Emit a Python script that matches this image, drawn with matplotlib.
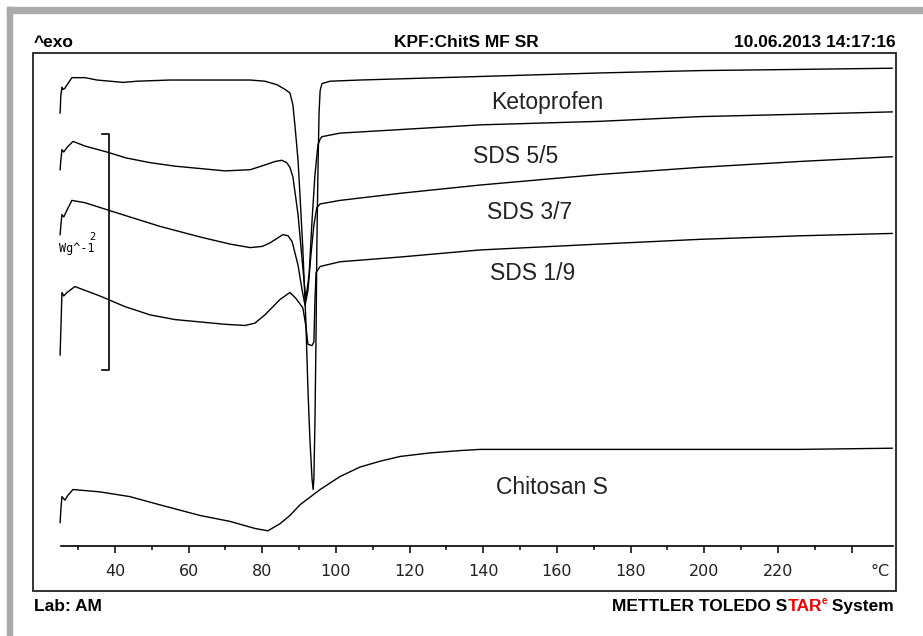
import matplotlib
matplotlib.use("Agg")
import matplotlib.pyplot as plt
from matplotlib.patches import Rectangle

# ------------------------------------------------------------------
# DSC curves (temperature in degC, heat flow in W/g, exo up)
# ------------------------------------------------------------------

keto_T = [25.1, 25.3, 25.6, 25.9, 26.4, 27.0, 28.3, 31.9, 35.1, 42.2, 46.0, 55.0, 63.1, 71.2, 76.7,
          80.7, 84.0, 86.2, 87.5, 88.3, 88.9, 89.7, 90.2, 91.0, 91.8, 92.4, 92.9, 93.5, 93.8, 94.0,
          94.3, 94.6, 94.8, 95.1, 95.4, 95.7, 96.2, 98.4, 106.5, 117.4, 139.1, 171.7, 198.8, 226.0, 251.0]
keto_hf = [4.05, 4.20, 4.27, 4.25, 4.26, 4.29, 4.35, 4.35, 4.33, 4.31, 4.32, 4.33, 4.33, 4.33, 4.33,
           4.32, 4.29, 4.25, 4.22, 4.12, 3.93, 3.65, 3.37, 2.90, 2.30, 1.70, 1.30, 0.95, 0.86, 0.95,
           1.45, 2.20, 2.90, 3.55, 4.05, 4.24, 4.30, 4.32, 4.33, 4.34, 4.36, 4.39, 4.41, 4.42, 4.43]

sds55_T = [25.1, 25.3, 25.6, 26.1, 27.0, 28.6, 31.9, 37.8, 43.0, 49.5, 56.3, 63.1, 69.9, 76.7, 80.7,
           83.5, 85.3, 86.6, 87.5, 88.3, 89.7, 90.8, 91.8, 92.7, 93.5, 94.3, 95.1, 95.7, 96.2, 101.1,
           117.4, 139.1, 171.7, 198.8, 226.0, 251.0]
sds55_hf = [3.57, 3.65, 3.74, 3.72, 3.76, 3.81, 3.77, 3.72, 3.67, 3.63, 3.60, 3.58, 3.56, 3.57, 3.61,
            3.64, 3.65, 3.63, 3.59, 3.51, 3.19, 2.81, 2.47, 2.68, 3.14, 3.53, 3.78, 3.83, 3.85, 3.88,
            3.91, 3.95, 3.98, 4.02, 4.04, 4.06]

sds37_T = [25.1, 25.3, 25.6, 26.1, 27.0, 28.3, 31.9, 35.9, 44.0, 52.2, 63.1, 71.2, 76.7, 80.0, 82.1,
           85.6, 87.0, 88.1, 89.7, 90.8, 91.6, 92.4, 93.2, 94.0, 94.8, 95.7, 101.1, 117.4, 139.1, 171.7,
           198.8, 226.0, 251.0]
sds37_hf = [3.02, 3.10, 3.19, 3.17, 3.23, 3.31, 3.29, 3.25, 3.17, 3.09, 3.00, 2.94, 2.91, 2.92, 2.95,
            3.02, 3.01, 2.96, 2.76, 2.55, 2.42, 2.55, 2.85, 3.10, 3.25, 3.28, 3.31, 3.37, 3.44, 3.53,
            3.59, 3.64, 3.68]

sds19_T = [25.1, 25.3, 25.6, 26.1, 27.0, 29.1, 35.9, 42.7, 49.5, 56.3, 63.1, 69.9, 75.3, 78.0, 80.7,
           84.8, 87.5, 89.1, 91.0, 91.8, 92.4, 93.5, 94.0, 94.3, 94.6, 95.7, 101.1, 117.4, 139.1, 171.7,
           198.8, 226.0, 251.0]
sds19_hf = [2.00, 2.21, 2.53, 2.50, 2.53, 2.58, 2.50, 2.41, 2.34, 2.30, 2.28, 2.26, 2.25, 2.27, 2.34,
            2.47, 2.53, 2.48, 2.40, 2.25, 2.09, 2.08, 2.11, 2.47, 2.70, 2.75, 2.79, 2.83, 2.89, 2.94,
            2.98, 3.01, 3.03]

chit_T = [25.1, 25.3, 25.6, 26.4, 27.2, 28.6, 35.9, 44.0, 52.2, 63.1, 71.2, 78.0, 81.5, 84.8, 87.5,
          90.2, 95.7, 101.1, 106.5, 112.0, 117.4, 125.5, 133.7, 139.1, 171.7, 198.8, 226.0, 251.0]
chit_hf = [0.58, 0.69, 0.80, 0.77, 0.81, 0.86, 0.84, 0.80, 0.73, 0.64, 0.59, 0.53, 0.51, 0.57, 0.64,
           0.73, 0.86, 0.97, 1.05, 1.10, 1.14, 1.17, 1.19, 1.20, 1.20, 1.20, 1.20, 1.21]

curve_names = ["Ketoprofen", "SDS 5/5", "SDS 3/7", "SDS 1/9", "Chitosan S"]
label_T = [142.1, 137.2, 141.0, 141.8, 143.4]
label_hf = [4.14, 3.68, 3.21, 2.69, 0.88]

major_ticks = [40, 60, 80, 100, 120, 140, 160, 180, 200, 220, 240]
major_labels = ["40", "60", "80", "100", "120", "140", "160", "180", "200", "220", ""]
minor_ticks = [30, 50, 70, 90, 110, 130, 150, 170, 190, 210, 230]

W, H = 923, 636
fig = plt.figure(figsize=(W / 100, H / 100), dpi=100)
fig.patch.set_facecolor("white")

# window shadow (top and left grey bands)
fig.patches.append(Rectangle((7 / W, 1 - 13 / H), 1, 6 / H, transform=fig.transFigure,
                             color="#aaaaaa", zorder=0))
fig.patches.append(Rectangle((7 / W, 0), 5 / W, 1 - 7 / H, transform=fig.transFigure,
                             color="#aaaaaa", zorder=0))

ax = fig.add_axes([33 / W, 45 / H, 863 / W, 538 / H])
ax.set_xlim(17.74, 252.05)
ax.set_ylim(0, 4.559)

for s in ["top", "left", "right"]:
    ax.spines[s].set_visible(False)
ax.spines["bottom"].set_position(("data", 0.381))
ax.spines["bottom"].set_bounds(25.3, 251.2)
ax.spines["bottom"].set_linewidth(1.2)
ax.add_patch(Rectangle((0, 0), 1, 1, transform=ax.transAxes, fill=False,
                       lw=1.3, ec="#222222", clip_on=False))

ax.set_yticks([])
ax.set_xticks(major_ticks)
ax.set_xticklabels(major_labels, family="DejaVu Sans", fontsize=11.5, color="#222222")
ax.set_xticks(minor_ticks, minor=True)
ax.tick_params(axis="x", which="major", direction="out", length=5, width=1.1, pad=8)
ax.tick_params(axis="x", which="minor", direction="out", length=3, width=1.1)
ax.text(250.3, 0.169, "°C", ha="right", va="center", family="DejaVu Sans",
        fontsize=11.5, color="#222222")

# curves
for T, hf in [(keto_T, keto_hf), (sds55_T, sds55_hf), (sds37_T, sds37_hf),
              (sds19_T, sds19_hf), (chit_T, chit_hf)]:
    ax.plot(T, hf, color="black", lw=1.0, solid_joinstyle="round")

for name, tx, ty in zip(curve_names, label_T, label_hf):
    ax.text(tx, ty, name, ha="left", va="center", family="Liberation Sans",
            fontsize=16.5, color="#222222")

# 2 W/g scale bar
bar_T, bar_lo, bar_len = 38.4, 1.873, 2.0
ax.plot([36.5, bar_T, bar_T, 36.5], [bar_lo, bar_lo, bar_lo + bar_len, bar_lo + bar_len],
        color="black", lw=1.2)
ax.text(33.8, 3.0, "2", ha="center", va="center", family="DejaVu Sans Mono", fontsize=7.5)
ax.text(24.8, 2.90, "Wg^-1", ha="left", va="center", family="DejaVu Sans Mono", fontsize=8.5)

# header / footer
hdr = dict(family="Liberation Sans", fontweight="bold", fontsize=12.5, va="baseline")
fig.text(34 / W, 589 / H, "^exo", ha="left", **hdr)
fig.text(466 / W, 589 / H, "KPF:ChitS MF SR", ha="center", **hdr)
fig.text(896 / W, 589 / H, "10.06.2013 14:17:16", ha="right", **hdr)
fig.text(34 / W, 25 / H, "Lab: AM", ha="left", **hdr)

r = fig.canvas.get_renderer()
pieces = [("METTLER TOLEDO S", "black", 12.5, 0), ("TAR", "#ee0000", 12.5, 0),
          ("e", "#ee0000", 7, 7), (" System", "black", 12.5, 0)]
x = 612
for s, c, fs, dy in pieces:
    t = fig.text(x / W, (25 + dy) / H, s, color=c, ha="left", va="baseline",
                 family="Liberation Sans", fontweight="bold", fontsize=fs)
    x = t.get_window_extent(r).x1

fig.savefig("out.png", dpi=100)
